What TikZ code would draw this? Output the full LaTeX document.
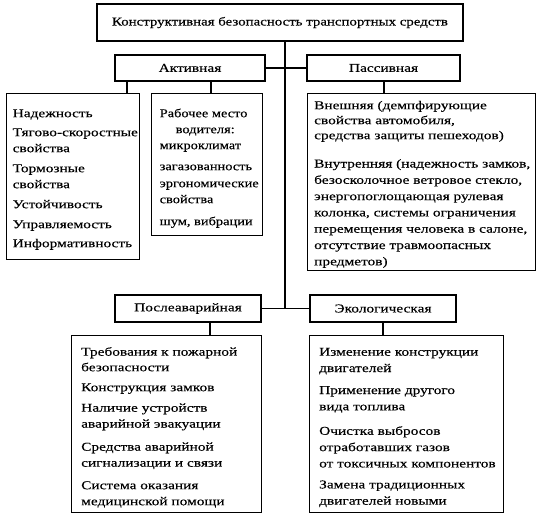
\documentclass[tikz,border=0pt]{standalone}
\usepackage{fontspec}
\setmainfont{Liberation Serif}[FakeStretch=1.28,FakeBold=0.3]
\newfontfamily\titlefont{Liberation Serif}[FakeStretch=1.24,FakeBold=0.3]
\newfontfamily\narrowfont{Liberation Serif}[FakeStretch=1.2,FakeBold=0.3]
\begin{document}
\begin{tikzpicture}[x=1pt,y=-1pt,
  frame/.style={draw, line width=1.4pt, inner sep=0pt, anchor=north west},
  txt/.style={anchor=north west, inner sep=0pt, align=left},
  hdr/.style={draw, line width=1.4pt, align=center, inner sep=0pt, font=\fontsize{12}{14}\selectfont},
  link/.style={line width=1.3pt}]
\useasboundingbox (0,0) rectangle (546,516);
% headers
\node[hdr, minimum width=366pt, minimum height=37pt, font=\titlefont\fontsize{12}{14}\selectfont] (root) at (280,22.5) {Конструктивная безопасность транспортных средств};
\node[hdr, minimum width=150pt, minimum height=26pt] (act) at (190,68) {Активная};
\node[hdr, minimum width=153pt, minimum height=26pt] (pas) at (383.5,68) {Пассивная};
\node[hdr, minimum width=146pt, minimum height=27pt] (post) at (188,308.5) {Послеаварийная};
\node[hdr, minimum width=146pt, minimum height=27pt] (eco) at (383,308.5) {Экологическая};

% frames
\node[frame, minimum width=133pt, minimum height=166pt] (lbox) at (6,93) {};
\node[frame, minimum width=111pt, minimum height=142pt] (work) at (151,93) {};
\node[frame, minimum width=228pt, minimum height=177pt] (pbox) at (307,93) {};
\node[frame, minimum width=190pt, minimum height=176.5pt] (abox) at (71,335) {};
\node[frame, minimum width=194pt, minimum height=176.5pt] (ebox) at (309,335) {};

% texts
\node[txt, font=\fontsize{12}{16}\selectfont] (ltxt) at (12.5,105.8)
 {\strut Надежность\\[3pt]
  Тягово-скоростные\\ свойства\\[4pt]
  Тормозные\\ свойства\\[4pt]
  Устойчивость\\[4pt]
  Управляемость\\[3pt]
  Информативность};
\node[txt, font=\narrowfont\fontsize{12}{16}\selectfont] (wtxt) at (159.5,105.8)
 {\strut Рабочее место\\
  \hspace*{16pt}водителя:\\
  микроклимат\\[5pt]
  загазованность\\[1pt]
  эргономические\\
  свойства\\[6pt]
  шум, вибрации};
\node[txt, font=\fontsize{12}{16.3}\selectfont] (ptxt) at (314,97.6)
 {\strut Внешняя (демпфирующие\\[-1.3pt] свойства автомобиля,\\[-1.3pt] средства защиты пешеходов)\\[12pt]
  Внутренняя (надежность замков,\\ безосколочное ветровое стекло,\\ энергопоглощающая рулевая\\ колонка, системы ограничения\\ перемещения человека в салоне,\\ отсутствие травмоопасных\\ предметов)};
\node[txt, font=\fontsize{12}{16}\selectfont] (atxt) at (81,344.3)
 {\strut Требования к пожарной\\[-0.5pt] безопасности\\[4pt]
  Конструкция замков\\[4.5pt]
  Наличие устройств\\ аварийной эвакуации\\[7pt]
  Средства аварийной\\ сигнализации и связи\\[6.5pt]
  Система оказания\\ медицинской помощи};
\node[txt, font=\fontsize{12}{16.3}\selectfont] (etxt) at (319,344.1)
 {\strut Изменение конструкции\\ двигателей\\[5.7pt]
  Применение другого\\ вида топлива\\[8.2pt]
  Очистка выбросов\\ отработавших газов\\ от токсичных компонентов\\[4.7pt]
  Замена традиционных\\ двигателей новыми};

% connectors
\coordinate (spine) at (285,0);
\coordinate (ca) at (127,0);
\coordinate (cb) at (211,0);
\coordinate (cc) at (384,0);
\coordinate (cd) at (210,0);
\coordinate (ce) at (383,0);
\draw[link] (root.south -| spine) -- (spine |- post.east);
\draw[link] (act.east) -- (pas.west);
\draw[link] (post.east) -- (eco.west);
\draw[link] (act.south -| ca) -- (lbox.north -| ca);
\draw[link] (act.south -| cb) -- (work.north -| cb);
\draw[link] (pas.south -| cc) -- (pbox.north -| cc);
\draw[link] (post.south -| cd) -- (abox.north -| cd);
\draw[link] (eco.south -| ce) -- (ebox.north -| ce);
\end{tikzpicture}
\end{document}
